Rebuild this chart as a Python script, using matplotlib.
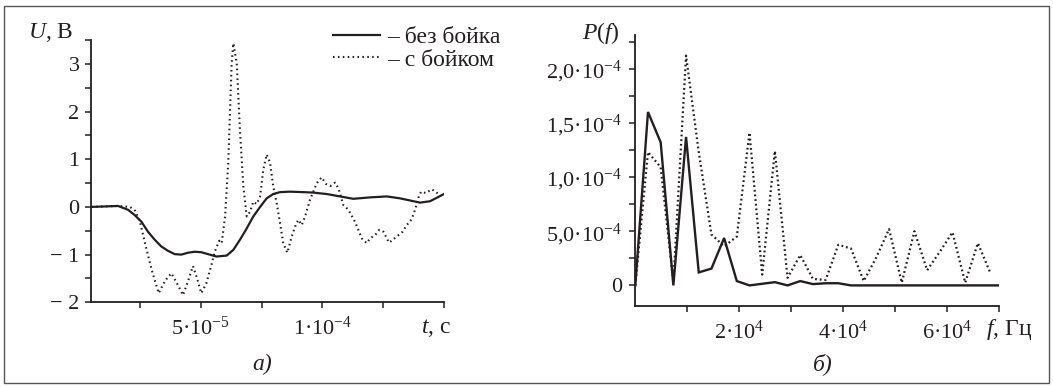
import matplotlib
matplotlib.use('Agg')
import numpy as np
import matplotlib.pyplot as plt
from matplotlib.ticker import MultipleLocator, FixedLocator
from matplotlib.patches import Rectangle

plt.rcParams['font.family'] = ['Liberation Serif', 'DejaVu Serif']
plt.rcParams['mathtext.fontset'] = 'custom'
plt.rcParams['mathtext.rm'] = 'Liberation Serif'
plt.rcParams['mathtext.it'] = 'Liberation Serif:italic'
plt.rcParams['mathtext.bf'] = 'Liberation Serif:bold'
plt.rcParams['axes.unicode_minus'] = True

INK = '#231f20'

# ---------------- Data: panel a) time signal (t in units of 1e-5 s) ----------------
t_solid = [0.5, 1.60, 2.01, 2.28, 2.56, 2.83, 3.11, 3.38, 3.65, 3.93, 4.20, 4.48,
           4.75, 5.02, 5.30, 5.64, 6.07, 6.34, 6.61, 6.89, 7.16, 7.44, 7.71, 7.98,
           8.26, 8.67, 9.22, 9.63, 10.18, 10.73, 11.27, 11.96, 12.65, 13.19, 13.74,
           14.02, 14.43, 15.0]
u_solid = [0.0, 0.02, -0.06, -0.17, -0.31, -0.52, -0.69, -0.83, -0.92, -0.99, -1.0, -0.96,
           -0.94, -0.95, -0.99, -1.04, -1.02, -0.90, -0.69, -0.45, -0.20, 0.0, 0.18, 0.27,
           0.31, 0.32, 0.31, 0.30, 0.27, 0.22, 0.17, 0.20, 0.22, 0.18, 0.12,
           0.09, 0.12, 0.27]

t_dot = [0.5, 1.60, 2.09, 2.30, 2.50, 2.75, 3.00, 3.27, 3.53, 3.79, 4.02, 4.27, 4.48,
         4.68, 4.85, 5.02, 5.23, 5.42, 5.59, 5.76, 5.86, 6.00, 6.13, 6.27, 6.34, 6.48,
         6.61, 6.75, 6.89, 7.03, 7.16, 7.30, 7.44, 7.57, 7.71, 7.85, 7.98, 8.12, 8.26,
         8.39, 8.56, 8.74, 8.88, 9.01, 9.15, 9.29, 9.49, 9.77, 9.97, 10.15, 10.34,
         10.52, 10.66, 10.86, 11.07, 11.34, 11.62, 11.82, 11.96, 12.17, 12.34, 12.51,
         12.74, 12.92, 13.30, 13.47, 13.67, 13.81, 13.95, 14.06, 14.26, 14.50, 14.70,
         14.87]
u_dot = [0.0, 0.02, 0.0, -0.08, -0.31, -0.85, -1.35, -1.81, -1.55, -1.39, -1.60, -1.85, -1.55,
         -1.24, -1.50, -1.81, -1.60, -1.25, -0.92, -0.71, -0.76, -0.20, 0.92, 3.01, 3.43, 3.01,
         1.62, 0.43, -0.20, -0.10, 0.11, 0.06, 0.22, 0.78, 1.10, 0.92, 0.43, 0.08, -0.34,
         -0.76, -0.96, -0.62, -0.41, -0.27, -0.38, -0.20, 0.15, 0.50, 0.62, 0.48, 0.44,
         0.51, 0.39, 0.04, -0.06, -0.31, -0.66, -0.76, -0.66, -0.59, -0.48, -0.52,
         -0.75, -0.68, -0.52, -0.38, -0.26, -0.06, 0.20, 0.32, 0.29, 0.37, 0.30,
         0.23]

# ---------------- Data: panel b) spectrum (P in units of 1e-4) ----------------
f_hz = [0, 2440, 4880, 7320, 9760, 12200, 14640, 17080, 19520, 21960, 24400, 26840,
        29280, 31720, 34160, 36600, 39040, 41480, 43920, 46360, 48800, 51240, 53680,
        56120, 58560, 61000, 63440, 65880, 68320, 70760]
p_solid = [0.0, 1.60, 1.32, 0.0, 1.37, 0.12, 0.155, 0.437, 0.04, 0.0, 0.015, 0.03,
           0.0, 0.04, 0.012, 0.02, 0.02, 0.0, 0.0, 0.0, 0.0, 0.0, 0.0,
           0.0, 0.0, 0.0, 0.0, 0.0, 0.0, 0.0]
p_dot = [0.0, 1.23, 1.09, 0.03, 2.12, 1.23, 0.47, 0.36, 0.45, 1.41, 0.10, 1.24,
         0.07, 0.28, 0.06, 0.05, 0.375, 0.34, 0.04, 0.26, 0.52, 0.025, 0.50,
         0.14, 0.31, 0.49, 0.025, 0.39, 0.11]

a_yticks = [-2, -1, 0, 1, 2, 3]
a_yticklabels = ['\u2212 2', '\u2212 1', '0', '1', '2', '3']
a_xticks = [5, 10]
a_xticklabels = ['5\u00b710$^{\u22125}$', '1\u00b710$^{\u22124}$']
b_yticks = [0, 0.5, 1.0, 1.5, 2.0]
b_yticklabels = ['0', '5,0\u00b710$^{\u22124}$', '1,0\u00b710$^{\u22124}$',
                 '1,5\u00b710$^{\u22124}$', '2,0\u00b710$^{\u22124}$']
b_xticks = [20000, 40000, 60000]
b_xticklabels = ['2\u00b710$^{4}$', '4\u00b710$^{4}$', '6\u00b710$^{4}$']

W, H = 1053, 387
fig = plt.figure(figsize=(W / 100, H / 100), dpi=100)


def fx(x):
    return x / W


def fy(y):
    return 1 - y / H


FS = 16
FL = 17

ax1 = fig.add_axes([fx(91.3), fy(302.3), (444 - 91.3) / W, (302.3 - 40) / H])
ax2 = fig.add_axes([fx(635.3), fy(306), (999.3 - 635.3) / W, (306 - 35) / H])

for ax in (ax1, ax2):
    for s in ('top', 'right'):
        ax.spines[s].set_visible(False)
    for s in ('left', 'bottom'):
        ax.spines[s].set_linewidth(1.3)
        ax.spines[s].set_color(INK)
    ax.tick_params(which='both', direction='out', length=4.5, width=1.1, color=INK,
                   labelsize=FS, labelcolor=INK)
    ax.patch.set_visible(False)

# panel a
l1, = ax1.plot(t_solid, u_solid, color=INK, lw=1.6, solid_joinstyle='round')
l2, = ax1.plot(t_dot, u_dot, color=INK, lw=1.5, linestyle=(0, (0.75, 1.6)))
ax1.set_xlim(0.5, 15)
ax1.set_ylim(-2, 3.5)
ax1.yaxis.set_major_locator(FixedLocator(a_yticks))
ax1.set_yticklabels(a_yticklabels)
ax1.yaxis.set_minor_locator(MultipleLocator(0.5))
ax1.xaxis.set_major_locator(FixedLocator(a_xticks))
ax1.set_xticklabels(a_xticklabels)
ax1.xaxis.set_minor_locator(FixedLocator([2.5, 7.5, 12.5, 15]))
ax1.tick_params(axis='y', pad=4)
ax1.tick_params(axis='x', pad=6)

ax1.legend([l1, l2], ['\u2013 без бойка', '\u2013 с бойком'], loc='upper left',
           bbox_to_anchor=(fx(333), fy(26.5)), bbox_transform=fig.transFigure,
           frameon=False, fontsize=FL, handlelength=2.0, handletextpad=0.3,
           labelspacing=0.05, borderpad=0, borderaxespad=0, labelcolor=INK)

# panel b
ax2.plot(f_hz, p_solid, color=INK, lw=1.7, solid_joinstyle='miter')
ax2.plot(f_hz[:len(p_dot)], p_dot, color=INK, lw=1.6, linestyle=(0, (0.8, 1.3)))
ax2.set_xlim(0, 70000)
ax2.set_ylim(-0.19, 2.31)
ax2.yaxis.set_major_locator(FixedLocator(b_yticks))
ax2.set_yticklabels(b_yticklabels)
ax2.yaxis.set_minor_locator(MultipleLocator(0.25))
ax2.xaxis.set_major_locator(FixedLocator(b_xticks))
ax2.set_xticklabels(b_xticklabels)
ax2.xaxis.set_minor_locator(FixedLocator([10000, 30000, 50000, 70000]))
ax2.tick_params(axis='y', pad=5)
ax2.tick_params(axis='x', pad=6)

# labels
fig.text(fx(28), fy(33), '$U$, В', fontsize=FL, color=INK, va='center', ha='left')
fig.text(fx(421), fy(328), '$t$, с', fontsize=FL, color=INK, va='center', ha='left')
fig.text(fx(262), fy(364), 'а)', fontsize=FL, color=INK, va='center', ha='center',
         style='italic')
fig.text(fx(582), fy(33), '$P(f)$', fontsize=FL, color=INK, va='center', ha='left')
fig.text(fx(986), fy(330), '$f$, Гц', fontsize=FL, color=INK, va='center', ha='left')
fig.text(fx(823), fy(364), 'б)', fontsize=FL, color=INK, va='center', ha='center',
         style='italic')

fig.patches.append(Rectangle((fx(3.5), fy(383)), fx(1049) - fx(3.5), fy(6) - fy(383),
                             transform=fig.transFigure, fill=False, edgecolor='#555555',
                             lw=1.0))

fig.savefig('out.png', dpi=100)
